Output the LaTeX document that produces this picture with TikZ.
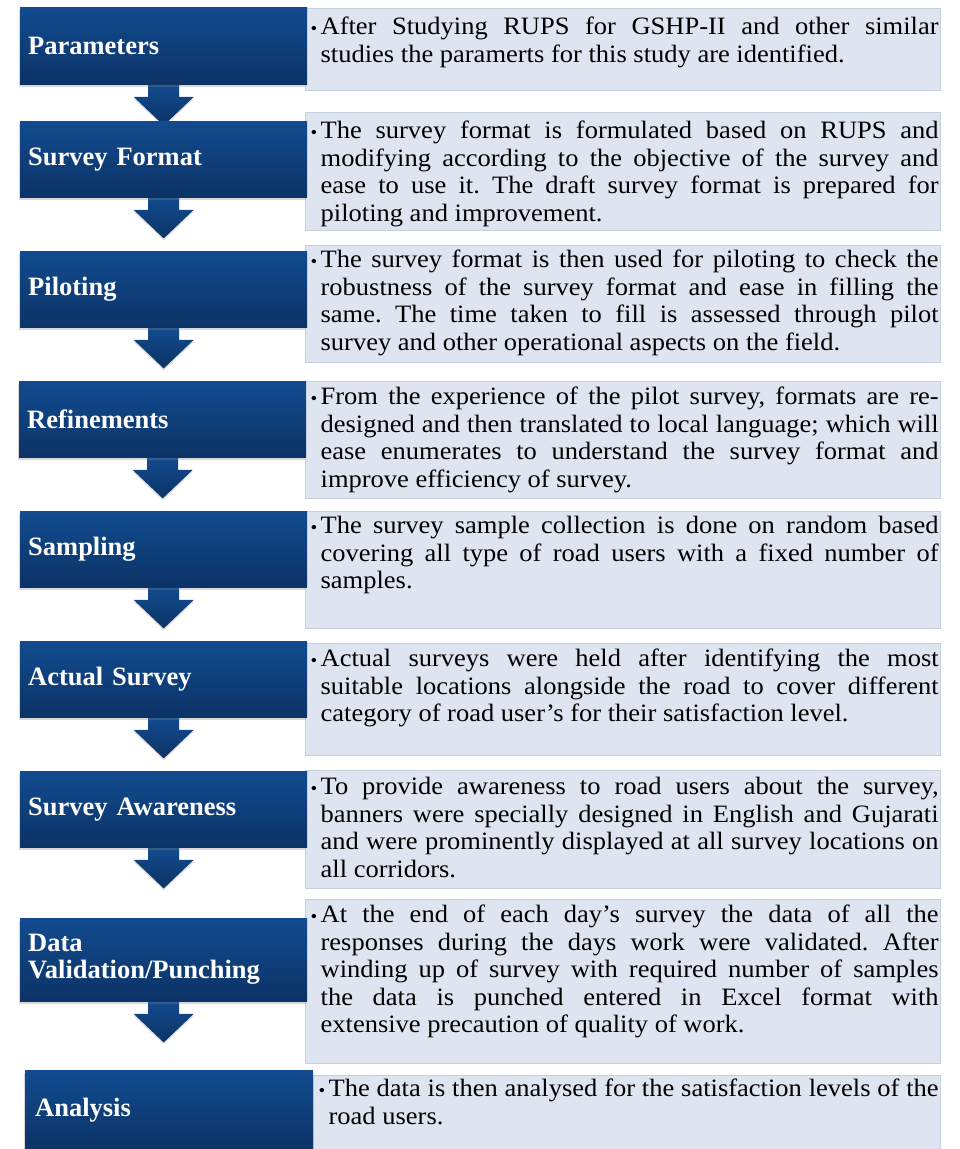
\documentclass[tikz,border=0pt]{standalone}
\usepackage{fontspec}
\setmainfont{Liberation Serif}
\newfontfamily\notefont{Liberation Serif}[FakeStretch=1.06]
\usetikzlibrary{shadows,backgrounds}
\definecolor{stagetop}{RGB}{18,75,143}
\definecolor{stagebot}{RGB}{12,51,102}
\definecolor{notefill}{RGB}{222,229,241}
\definecolor{noteline}{RGB}{198,207,220}
\newcommand{\bul}[1]{\frenchspacing\makebox[13pt][l]{\hspace{3pt}\fontsize{18}{18}\selectfont\textbullet}\hangindent=13pt #1\par}
\tikzset{
  x=1pt, y=-1pt,
  stage/.style={anchor=north west, minimum width=287pt, minimum height=#1,
    text width=271pt, inner xsep=8pt, inner ysep=0pt, align=left, text=white,
    font=\fontsize{26.5}{27}\selectfont\bfseries,
    top color=stagetop, bottom color=stagebot,
    drop shadow={shadow xshift=-1pt, shadow yshift=-2.5pt, opacity=0.3}},
  stage/.default=76pt,
  note/.style 2 args={anchor=north west, fill=notefill, draw=noteline, line width=1.3pt,
    text width=631pt, inner xsep=2pt, inner ysep=0pt, align=justify,
    text height=#1, text depth=#2, font=\notefont\fontsize{25}{27.5}\selectfont},
  flow/.style={top color=stagetop, bottom color=stagebot,
    drop shadow={shadow xshift=0pt, shadow yshift=-2pt, opacity=0.25}}
}

\begin{document}
\begin{tikzpicture}
  \useasboundingbox (0,0) rectangle (960,1149);
  \node[note={26pt}{56pt}] (paramtxt) at (305,8) {\bul{After Studying RUPS for GSHP-II and other similar\linebreak studies the paramerts for this study are identified.}};
  \node[note={26pt}{92pt}] (formattxt) at (305,112) {\bul{The survey format is formulated based on RUPS and\linebreak modifying according to the objective of the survey and\linebreak ease to use it. The draft survey format is prepared for\linebreak piloting and improvement.}};
  \node[note={22pt}{95pt}] (pilottxt) at (305,245) {\bul{The survey format is then used for piloting to check the\linebreak robustness of the survey format and ease in filling the\linebreak same. The time taken to fill is assessed through pilot\linebreak survey and other operational aspects on the field.}};
  \node[note={23pt}{94pt}] (refinetxt) at (305,381) {\bul{From the experience of the pilot survey, formats are re-\linebreak designed and then translated to local language; which will\linebreak ease enumerates to understand the survey format and\linebreak improve efficiency of survey.}};
  \node[note={22pt}{95pt}] (sampletxt) at (305,511) {\bul{The survey sample collection is done on random based\linebreak covering all type of road users with a fixed number of\linebreak samples.}};
  \node[note={23pt}{89pt}] (actualtxt) at (305,643) {\bul{Actual surveys were held after identifying the most\linebreak suitable locations alongside the road to cover different\linebreak category of road user’s for their satisfaction level.}};
  \node[note={24pt}{94pt}] (awaretxt) at (305,770) {\bul{To provide awareness to road users about the survey,\linebreak banners were specially designed in English and Gujarati\linebreak and were prominently displayed at all survey locations on\linebreak all corridors.}};
  \node[note={23pt}{141pt}] (validtxt) at (305,899) {\bul{At the end of each day’s survey the data of all the\linebreak responses during the days work were validated. After\linebreak winding up of survey with required number of samples\linebreak the data is punched entered in Excel format with\linebreak extensive precaution of quality of work.}};
  \node[note={21pt}{55pt}, text width=623pt] (analysistxt) at (313,1075) {\bul{The data is then analysed for the satisfaction levels of the\linebreak road users.}};

  \node[stage=77pt] (param) at (20,7) {Parameters};
  \node[stage] (format) at (20,121) {Survey Format};
  \node[stage] (pilot) at (20,251) {Piloting};
  \node[stage] (refine) at (19,381) {Refinements};
  \node[stage] (sample) at (20,511) {Sampling};
  \node[stage] (actual) at (20,641) {Actual Survey};
  \node[stage] (aware) at (20,771) {Survey Awareness};
  \node[stage=83pt] (valid) at (20,918) {Data\\Validation/Punching};
  \node[stage=79pt, inner xsep=10pt, text width=268pt] (analysis) at (25,1070) {Analysis};

  \begin{scope}[on background layer]
    \foreach \s in {param,format,pilot,refine,sample,actual,aware,valid}
      \path[flow] ([xshift=-15.5pt]\s.south) -- ++(0,12.5) -- ++(-14.5,0) -- ++(30,28.5)
        -- ++(30,-28.5) -- ++(-14.5,0) -- ++(0,-12.5) -- cycle;
  \end{scope}
\end{tikzpicture}
\end{document}
